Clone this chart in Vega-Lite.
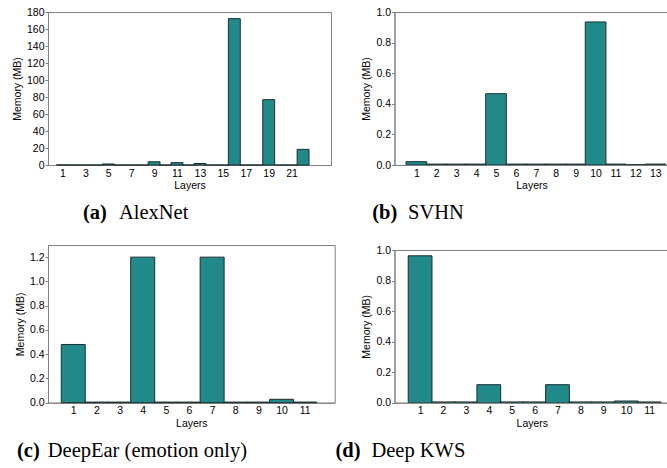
{
  "$schema": "https://vega.github.io/schema/vega-lite/v6.json",
  "padding": {"left": 11, "top": 6, "right": 0, "bottom": 0},
  "background": "white",
  "datasets": {
    "alexnet": [
      {"layer": 1, "mem": 0.1}, {"layer": 2, "mem": 0}, {"layer": 3, "mem": 0}, {"layer": 4, "mem": 0},
      {"layer": 5, "mem": 1.2}, {"layer": 6, "mem": 0}, {"layer": 7, "mem": 0}, {"layer": 8, "mem": 0},
      {"layer": 9, "mem": 3.8}, {"layer": 10, "mem": 0}, {"layer": 11, "mem": 2.8}, {"layer": 12, "mem": 0},
      {"layer": 13, "mem": 1.8}, {"layer": 14, "mem": 0}, {"layer": 15, "mem": 0}, {"layer": 16, "mem": 172.2},
      {"layer": 17, "mem": 0}, {"layer": 18, "mem": 0}, {"layer": 19, "mem": 76.9}, {"layer": 20, "mem": 0},
      {"layer": 21, "mem": 0}, {"layer": 22, "mem": 18.4}
    ],
    "svhn": [
      {"layer": 1, "mem": 0.022}, {"layer": 2, "mem": 0.006}, {"layer": 3, "mem": 0.006}, {"layer": 4, "mem": 0.006},
      {"layer": 5, "mem": 0.466}, {"layer": 6, "mem": 0.006}, {"layer": 7, "mem": 0.006}, {"layer": 8, "mem": 0.006},
      {"layer": 9, "mem": 0.006}, {"layer": 10, "mem": 0.935}, {"layer": 11, "mem": 0.006}, {"layer": 12, "mem": 0.002},
      {"layer": 13, "mem": 0.006}
    ],
    "deepear": [
      {"layer": 1, "mem": 0.48}, {"layer": 2, "mem": 0.005}, {"layer": 3, "mem": 0.005}, {"layer": 4, "mem": 1.2},
      {"layer": 5, "mem": 0.005}, {"layer": 6, "mem": 0.005}, {"layer": 7, "mem": 1.2}, {"layer": 8, "mem": 0.005},
      {"layer": 9, "mem": 0.005}, {"layer": 10, "mem": 0.028}, {"layer": 11, "mem": 0.005}
    ],
    "kws": [
      {"layer": 1, "mem": 0.962}, {"layer": 2, "mem": 0.005}, {"layer": 3, "mem": 0.005}, {"layer": 4, "mem": 0.118},
      {"layer": 5, "mem": 0.005}, {"layer": 6, "mem": 0.005}, {"layer": 7, "mem": 0.118}, {"layer": 8, "mem": 0.005},
      {"layer": 9, "mem": 0.005}, {"layer": 10, "mem": 0.011}, {"layer": 11, "mem": 0.005}
    ]
  },
  "config": {
    "view": {"stroke": "#808080", "strokeWidth": 1},
    "axis": {
      "grid": false,
      "labelFont": "Liberation Sans", "titleFont": "Liberation Sans",
      "labelFontSize": 10.5, "titleFontSize": 10.5, "titleFontWeight": "normal",
      "labelColor": "#000000", "titleColor": "#000000",
      "domainColor": "#808080", "tickColor": "#808080"
    },
    "axisY": {"tickSize": 3, "labelPadding": 1, "titlePadding": 4},
    "axisX": {"ticks": false, "labelPadding": 3, "titlePadding": 2, "labelFlush": false},
    "title": {
      "font": "Liberation Serif", "fontSize": 20.5, "fontWeight": "bold", "color": "#000000",
      "subtitleFont": "Liberation Serif", "subtitleFontSize": 20.5, "subtitleFontWeight": "normal", "subtitleColor": "#000000",
      "subtitlePadding": -20.5,
      "orient": "bottom", "anchor": "start", "frame": "group", "offset": 12
    },
    "bar": {"fill": "#21898a", "stroke": "#1a2e2e", "strokeWidth": 1}
  },
  "hconcat": [
    {
      "align": "none",
      "spacing": 20,
      "vconcat": [
        {
          "width": 283, "height": 153,
          "data": {"name": "alexnet"},
          "title": {"text": "(a)", "subtitle": "\u200b\u00a0\u00a0\u00a0\u00a0\u00a0\u00a0\u00a0AlexNet", "dx": 35},
          "mark": {"type": "bar", "width": 11.88},
          "encoding": {
            "x": {"field": "layer", "type": "quantitative", "title": "Layers",
                  "scale": {"domain": [0.18, 24.0], "nice": false, "zero": false},
                  "axis": {"values": [1, 3, 5, 7, 9, 11, 13, 15, 17, 19, 21], "format": "d"}},
            "y": {"field": "mem", "type": "quantitative", "title": "Memory (MB)",
                  "scale": {"domain": [0, 180], "nice": false},
                  "axis": {"values": [0, 20, 40, 60, 80, 100, 120, 140, 160, 180], "format": "d"}}
          }
        },
        {
          "width": 286.7, "height": 157.7,
          "data": {"name": "deepear"},
          "title": {"text": "(c)", "subtitle": "\u200b\u00a0\u00a0\u00a0\u00a0\u00a0\u00a0DeepEar (emotion only)", "dx": -31},
          "mark": {"type": "bar", "width": 23.97},
          "encoding": {
            "x": {"field": "layer", "type": "quantitative", "title": "Layers",
                  "scale": {"domain": [0.124, 12.08], "nice": false, "zero": false},
                  "axis": {"values": [1, 2, 3, 4, 5, 6, 7, 8, 9, 10, 11], "format": "d"}},
            "y": {"field": "mem", "type": "quantitative", "title": "Memory (MB)",
                  "scale": {"domain": [0, 1.3], "nice": false},
                  "axis": {"values": [0, 0.2, 0.4, 0.6, 0.8, 1.0, 1.2], "format": ".1f"}}
          }
        }
      ]
    },
    {
      "align": "each",
      "spacing": 20,
      "vconcat": [
        {
          "width": 274, "height": 153,
          "data": {"name": "svhn"},
          "title": {"text": "(b)", "subtitle": "\u200b\u00a0\u00a0\u00a0\u00a0\u00a0\u00a0\u00a0SVHN", "dx": -22.3},
          "mark": {"type": "bar", "width": 20.67, "clip": true},
          "encoding": {
            "x": {"field": "layer", "type": "quantitative", "title": "Layers",
                  "scale": {"domain": [0.153, 13.41], "nice": false, "zero": false},
                  "axis": {"values": [1, 2, 3, 4, 5, 6, 7, 8, 9, 10, 11, 12, 13], "format": "d"}},
            "y": {"field": "mem", "type": "quantitative", "title": "Memory (MB)",
                  "scale": {"domain": [0, 1], "nice": false},
                  "axis": {"values": [0, 0.2, 0.4, 0.6, 0.8, 1.0], "format": ".1f"}}
          }
        },
        {
          "width": 274.7, "height": 152.7,
          "data": {"name": "kws"},
          "title": {"text": "(d)", "subtitle": "\u200b\u00a0\u00a0\u00a0\u00a0\u00a0\u00a0\u00a0Deep KWS", "dx": -59},
          "mark": {"type": "bar", "width": 23.77, "clip": true},
          "encoding": {
            "x": {"field": "layer", "type": "quantitative", "title": "Layers",
                  "scale": {"domain": [0.1, 11.66], "nice": false, "zero": false},
                  "axis": {"values": [1, 2, 3, 4, 5, 6, 7, 8, 9, 10, 11], "format": "d"}},
            "y": {"field": "mem", "type": "quantitative", "title": "Memory (MB)",
                  "scale": {"domain": [0, 1], "nice": false},
                  "axis": {"values": [0, 0.2, 0.4, 0.6, 0.8, 1.0], "format": ".1f"}}
          }
        }
      ]
    }
  ],
  "spacing": -1.5
}
